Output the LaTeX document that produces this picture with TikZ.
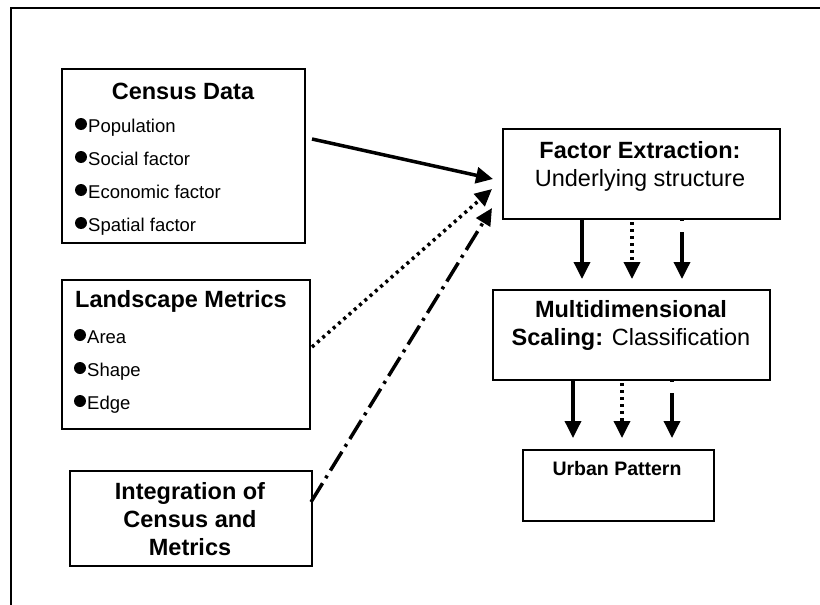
\documentclass[tikz,border=0pt]{standalone}
\usepackage{fontspec}
\setmainfont{Liberation Sans}
\usetikzlibrary{arrows.meta,calc}
\newcommand\bitem[3]{\node[itm] (#1) at (#2) {#3};
  \fill ($(#1.base west)+(-7,-8)$) circle (6);}
\begin{document}
\begin{tikzpicture}[x=1pt,y=-1pt,
  box/.style={draw, line width=2pt, inner sep=0pt, anchor=north west},
  ttl/.style={font=\fontsize{23.5}{28}\selectfont\bfseries, inner sep=0pt, anchor=base},
  sub/.style={font=\fontsize{23.5}{28}\selectfont, inner sep=0pt, anchor=base},
  itm/.style={font=\fontsize{18.5}{22}\selectfont, inner sep=0pt, anchor=base west},
  arr/.style={line width=3.5pt, -{Triangle[length=17pt,width=16pt]}},
  dots/.style={dash pattern=on 3pt off 4pt},
  dashdot/.style={dash pattern=on 22pt off 6pt on 3pt off 6pt},
  brk/.style={dash pattern=on 3pt off 11pt on 200pt},
]
\useasboundingbox (0,0) rectangle (820,605);
\draw[line width=2.2pt] (11,605) -- (11,8) -- (820,8);

% boxes
\node[box, minimum width=243pt, minimum height=174pt] (census) at (61,68) {};
\node[box, minimum width=248pt, minimum height=149pt] (land) at (61,279) {};
\node[box, minimum width=242pt, minimum height=95pt] (integ) at (69,470) {};
\node[box, minimum width=277pt, minimum height=90pt] (factor) at (502,128) {};
\node[box, minimum width=277pt, minimum height=90pt] (mds) at (492,289) {};
\node[box, minimum width=191pt, minimum height=71pt] (urban) at (522,449) {};

% texts
\node[ttl] (censusT) at (183,99) {Census Data};
\bitem{pop}{88,132}{Population}
\bitem{soc}{88,165}{Social factor}
\bitem{eco}{88,198}{Economic factor}
\bitem{spa}{88,231}{Spatial factor}

\node[ttl, anchor=base west] (landT) at (75,307) {Landscape Metrics};
\bitem{area}{87,343}{Area}
\bitem{shape}{87,376}{Shape}
\bitem{edge}{87,409}{Edge}

\node[ttl] (int1) at (190,499) {Integration of};
\node[ttl] (int2) at (190,527) {Census and};
\node[ttl] (int3) at (190,555) {Metrics};

\node[ttl] (fac1) at (640,158) {Factor Extraction:};
\node[sub] (fac2) at (640,186) {Underlying structure};

\node[ttl] (mds1) at (631,317) {Multidimensional};
\node[sub] (mds2) at (631,345) {\textbf{Scaling:} Classification};

\node[font=\fontsize{19.5}{23}\selectfont\bfseries, inner sep=0pt, anchor=base] (urbT) at (617,475) {Urban Pattern};

% diagonal connectors
\coordinate (s1) at (312,139);
\coordinate (t1) at (493,179);
\coordinate (s2) at (312,347);
\coordinate (t2) at (492,189);
\coordinate (s3) at (311,502);
\coordinate (t3) at (492,208);
\draw[arr] (s1) -- (t1);
\draw[arr, dots] (s2) -- (t2);
\draw[arr, dashdot] (s3) -- (t3);

% vertical connectors factor -> mds
\draw[arr] (582,218) -- (582,279);
\draw[arr, dots] (632,222) -- (632,279);
\draw[arr, brk] (682,218) -- (682,279);

% mds -> urban
\draw[arr] (573,379) -- (573,438);
\draw[arr, dots] (622,383) -- (622,438);
\draw[arr, brk] (672,379) -- (672,438);
\end{tikzpicture}
\end{document}
